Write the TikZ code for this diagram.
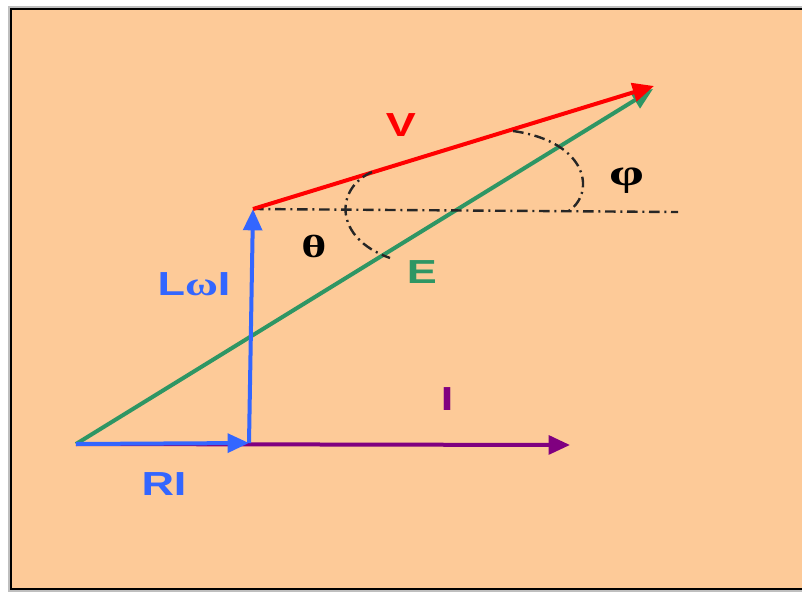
\documentclass[tikz,border=0pt]{standalone}
\usepackage{fontspec}
\setmainfont{Liberation Sans}
\newfontfamily\greekfont{Liberation Serif}
\usetikzlibrary{arrows.meta}
\definecolor{peach}{RGB}{253,202,152}
\definecolor{vblue}{RGB}{51,102,255}
\definecolor{vgreen}{RGB}{46,150,100}
\definecolor{vpurple}{RGB}{128,0,128}
\tikzset{
  vec/.style={line width=3pt, -{Triangle[length=16pt,width=14pt]}},
  lab/.style={font=\fontsize{25}{25}\selectfont\bfseries, xscale=1.35},
  greek/.style={font=\fontsize{24}{24}\selectfont\bfseries\greekfont, xscale=1.5},
  angl/.style={black!85, line width=1.8pt, dash pattern=on 8pt off 3.5pt on 1.5pt off 3.5pt}
}
\begin{document}
\begin{tikzpicture}[x=0.75pt,y=-0.75pt]
    \useasboundingbox (0,0) rectangle (802,592);
    % frame
    \fill[black!25] (8,6) rectangle (806,592);
    \draw[fill=peach, line width=2pt] (11,9) rectangle (806,589);
    % points
    \coordinate (O) at (76,444);
    \coordinate (A) at (249,443);
    \coordinate (B) at (253,209);
    \coordinate (Itip) at (570,445);
    \coordinate (Etip) at (653,89);
    \coordinate (Vtip) at (654,86);
    \coordinate (H) at (678,212);
    % vectors
    \draw[vec, vpurple] (O) -- (Itip);
    \draw[vec, vgreen] (O) -- (Etip);
    \draw[vec, vblue] (O) -- (A);
    \draw[vec, vblue] (A) -- (B);
    \draw[angl] (B) -- (H);
    \draw[vec, red] (B) -- (Vtip);
    % angles
    \draw[angl] (372,172) .. controls (335,188) and (333,238) .. (390,258);
    \draw[angl] (513,131) .. controls (590,142) and (596,195) .. (567,212);
    % labels
    \node[lab, red] (Vlab) at (401,125) {V};
    \node[lab, vgreen] (Elab) at (422,272) {E};
    \node[lab, vblue] (Llab) at (194,284) {L{\greekfont ω}I};
    \node[lab, vpurple] (Ilab) at (447,399) {I};
    \node[lab, vblue] (RIlab) at (164,484) {RI};
    \node[greek] (th) at (314,246) {θ};
    \node[greek, font=\fontsize{28}{28}\selectfont\bfseries\greekfont] (ph) at (627,181) {φ};
\end{tikzpicture}
\end{document}
